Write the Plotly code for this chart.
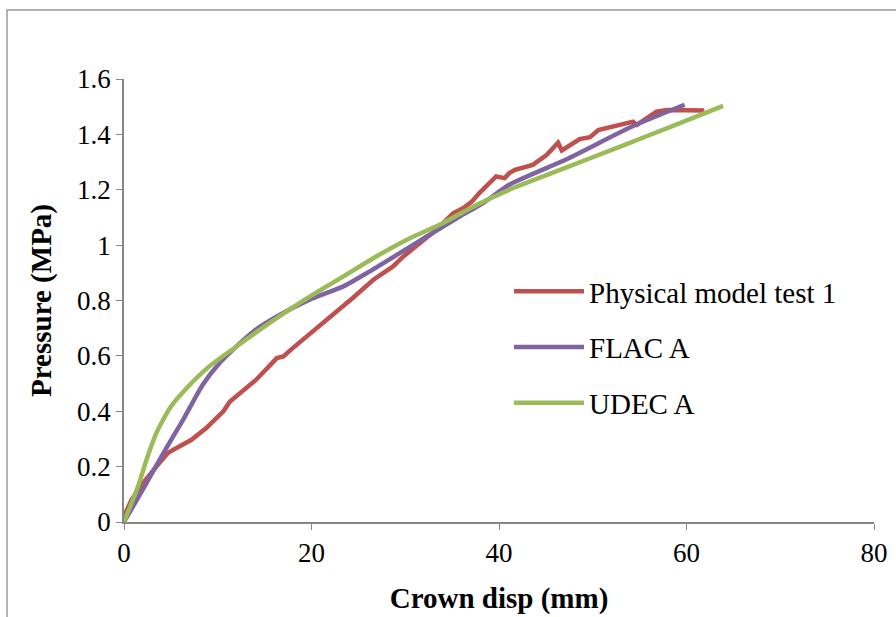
import plotly.graph_objects as go

# Physical model test 1
phys_x = [0, 0.08, 0.8, 2.0, 3.45, 4.7, 5.6, 7.2, 8.8, 10.6, 11.3, 14.1, 16.3, 17.0, 18.0, 21.2, 21.9,
          24.4, 26.6, 28.7, 29.8, 31.5, 33.3, 35.1, 36.2, 37.1, 37.9, 39.7, 40.6, 41.1, 41.7, 43.6,
          45.1, 46.3, 46.7, 48.6, 49.7, 50.6, 54.3, 54.7, 56.8, 57.9, 60.3, 61.9]
phys_y = [0.0, 0.026, 0.08, 0.14, 0.2, 0.25, 0.267, 0.297, 0.34, 0.40, 0.435, 0.514, 0.592, 0.598, 0.628,
          0.718, 0.736, 0.809, 0.875, 0.923, 0.959, 1.007, 1.055, 1.115, 1.134, 1.157, 1.188, 1.248,
          1.242, 1.26, 1.272, 1.29, 1.326, 1.37, 1.342, 1.383, 1.39, 1.416, 1.446, 1.434, 1.482,
          1.488, 1.488, 1.486]

# FLAC A
flac_x = [0, 2.0, 4.2, 6.3, 8.4, 10.2, 12.0, 13.8, 16.3, 19.8, 23.4, 26.2, 29.1, 32.3, 35.8, 38.3,
          41.1, 47.2, 54.3, 59.8]
flac_y = [0, 0.117, 0.249, 0.369, 0.496, 0.574, 0.634, 0.688, 0.742, 0.803, 0.851, 0.905, 0.965,
          1.031, 1.103, 1.152, 1.218, 1.31, 1.43, 1.507]

# UDEC A
udec_x = [0, 1.5, 2.4, 3.45, 4.9, 6.7, 9.1, 12.0, 15.5, 19.8, 23.4, 26.9, 30.5, 34.0, 37.6, 41.1,
          47.0, 53.0, 58.5, 63.9]
udec_y = [0, 0.129, 0.225, 0.321, 0.412, 0.484, 0.562, 0.634, 0.718, 0.814, 0.887, 0.959, 1.025,
          1.079, 1.145, 1.2, 1.278, 1.357, 1.43, 1.503]

x_ticks = [0, 20, 40, 60, 80]
y_ticks = [0, 0.2, 0.4, 0.6, 0.8, 1.0, 1.2, 1.4, 1.6]
y_tick_labels = ["0", "0.2", "0.4", "0.6", "0.8", "1", "1.2", "1.4", "1.6"]

FONT = "Liberation Serif"
FS_TICK = 27
FS_TEXT = 29

fig = go.Figure()
fig.add_trace(go.Scatter(x=phys_x, y=phys_y, mode="lines", name="Physical model test 1",
                         line=dict(color="#C0504D", width=4.5), legendgroup="a"))
fig.add_trace(go.Scatter(x=flac_x, y=flac_y, mode="lines", name="FLAC A",
                         line=dict(color="#8064A2", width=4.5, shape="spline", smoothing=0.6),
                         legendgroup="b"))
fig.add_trace(go.Scatter(x=udec_x, y=udec_y, mode="lines", name="UDEC A",
                         line=dict(color="#9BBB59", width=4.5, shape="spline", smoothing=0.6),
                         legendgroup="c"))

W, H = 896, 617
L, R, T, B = 124, 22, 79, 95
pw = W - L - R
ph = H - T - B

fig.update_layout(
    width=W, height=H,
    margin=dict(l=L, r=R, t=T, b=B, autoexpand=False),
    paper_bgcolor="white", plot_bgcolor="white",
    font=dict(family=FONT, size=FS_TEXT, color="black"),
    showlegend=True,
    legend=dict(x=(509 - L) / pw, y=(522 - 266) / ph, xanchor="left", yanchor="top",
                bgcolor="rgba(0,0,0,0)", font=dict(family=FONT, size=FS_TEXT),
                tracegroupgap=15, itemwidth=70),
    xaxis=dict(range=[0, 80], tickvals=x_ticks, showgrid=False, zeroline=False,
               showline=True, linecolor="#868686", linewidth=1.5, automargin=False,
               ticks="outside", ticklen=6, tickcolor="#868686",
               tickfont=dict(family=FONT, size=FS_TICK),
               title=dict(text="<b>Crown disp (mm)</b>", font=dict(family=FONT, size=FS_TEXT),
                          standoff=21)),
    yaxis=dict(range=[0, 1.6], tickvals=y_ticks, ticktext=y_tick_labels, showgrid=False,
               zeroline=False, showline=True, linecolor="#868686", linewidth=1.5, automargin=False,
               ticks="outside", ticklen=6, tickcolor="#868686",
               tickfont=dict(family=FONT, size=FS_TICK),
               title=dict(text="<b>Pressure (MPa)</b>", font=dict(family=FONT, size=FS_TEXT),
                          standoff=17)),
    shapes=[dict(type="rect", xref="paper", yref="paper",
                 x0=(7 - L) / pw, x1=(W + 10 - L) / pw,
                 y0=-(H + 10 - T - ph) / ph, y1=(H - 10 - B) / ph,
                 line=dict(color="#9a9a9a", width=1.5), layer="below")],
)

fig.write_html("out.html", config={"displayModeBar": False},
               post_script="document.body.style.margin='0';")
